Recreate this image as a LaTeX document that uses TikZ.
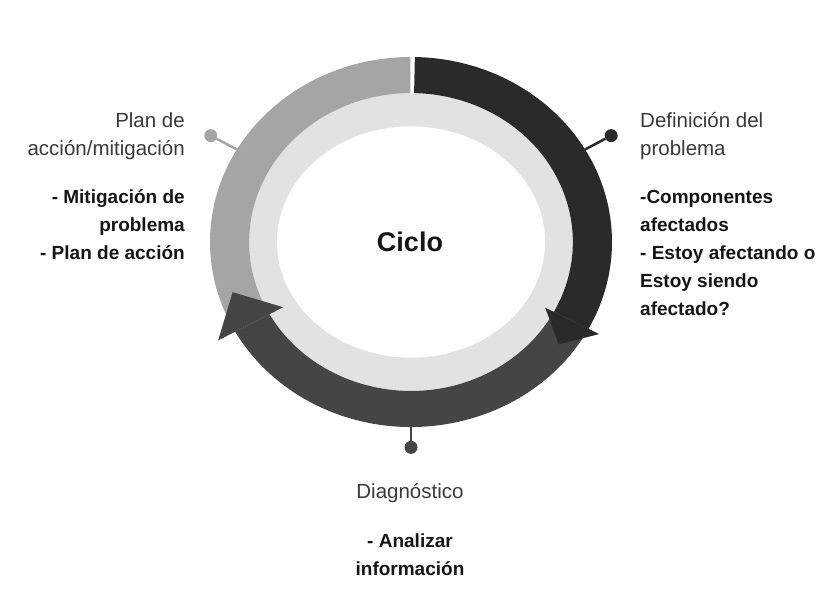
\documentclass[tikz,border=0pt]{standalone}
\usepackage{fontspec}
\setmainfont{Liberation Sans}
\usetikzlibrary{positioning}
\definecolor{cicloDark}{HTML}{2A2A2A}
\definecolor{cicloMid}{HTML}{454545}
\definecolor{cicloLight}{HTML}{A5A5A5}
\definecolor{cicloBand}{HTML}{E2E2E2}
\definecolor{textGray}{HTML}{3A3A3A}
\definecolor{textDark}{HTML}{151515}

\begin{document}
\begin{tikzpicture}[x=1pt, y=-1pt,
        title/.style={inner sep=0pt, text=textGray,
          font=\fontsize{20.5}{28}\selectfont},
        body/.style={inner sep=0pt, text=textDark,
          font=\fontsize{19}{28}\selectfont\bfseries},
        pindot/.style={circle, inner sep=0pt, minimum size=13pt},
        pinline/.style={line width=2.5pt},
        node distance=20pt
      ]
        \useasboundingbox (0,0) rectangle (831,610);
        \fill[white] (0,0) rectangle (831,610);

        % ring, unit ellipse around the centre
        \begin{scope}[shift={(411,242)}, x=201pt, y=185pt]
          \fill[cicloBand] (0,0) ellipse[x radius=0.805, y radius=0.805];
          \fill[white] (0,0) ellipse[x radius=0.667, y radius=0.625];
          % light segment, top to lower left
          \fill[cicloLight] (90.2:1) arc[start angle=90.2, end angle=209, radius=1]
            -- (209:0.805) arc[start angle=209, end angle=90.2, radius=0.805] -- cycle;
          % middle segment, lower right to lower left
          \fill[cicloMid] (-28:1) arc[start angle=-28, end angle=-151, radius=1]
            -- (209:0.805) arc[start angle=-151, end angle=-28, radius=0.805] -- cycle;
          \fill[cicloMid] (209:0.727) -- (209:1.097) -- (197:0.928) -- cycle;
          % dark segment, top to lower right
          \fill[cicloDark] (88.9:1) arc[start angle=88.9, end angle=-28, radius=1]
            -- (-28:0.805) arc[start angle=-28, end angle=88.9, radius=0.805] -- cycle;
          \fill[cicloDark] (-28:0.756) -- (-28:1.06) -- (-37:0.92) -- cycle;

          \coordinate (ringL) at (150:1);
          \coordinate (ringR) at (30:1);
          \coordinate (ringB) at (-90:1);
          \node[pindot, fill=cicloLight] (pinL) at (150:1.15) {};
          \node[pindot, fill=cicloDark]  (pinR) at (30:1.15) {};
          \node[pindot, fill=cicloMid]   (pinB) at (-90:1.11) {};
        \end{scope}

        \draw[pinline, cicloLight] (ringL) -- (pinL);
        \draw[pinline, cicloDark]  (ringR) -- (pinR);
        \draw[pinline, cicloMid]   (ringB) -- (pinB);

        \node[font=\fontsize{27}{30}\selectfont\bfseries, text=textDark]
          (ciclo) at (410,242) {Ciclo};

        % base anchor sits on the last line
        \node[title, align=right, anchor=base east] (plan) at (185,155)
          {Plan de\\acción/mitigación};
        \node[body, align=right, anchor=base east] (planbody) at (185,259)
          {- Mitigación de\\problema\\- Plan de acción};

        \node[title, align=left, anchor=base west] (definicion) at (640,155)
          {Definición del\\problema};
        \node[body, align=left, anchor=base west] (defbody) at (640,315)
          {-Componentes\\afectados\\- Estoy afectando o\\Estoy siendo\\afectado?};

        \node[title, anchor=base] (diagnostico) at (410,498) {Diagnóstico};
        \node[body, align=center, anchor=base] (diagbody) at (410,575)
          {- Analizar\\información};
      \end{tikzpicture}
\end{document}
